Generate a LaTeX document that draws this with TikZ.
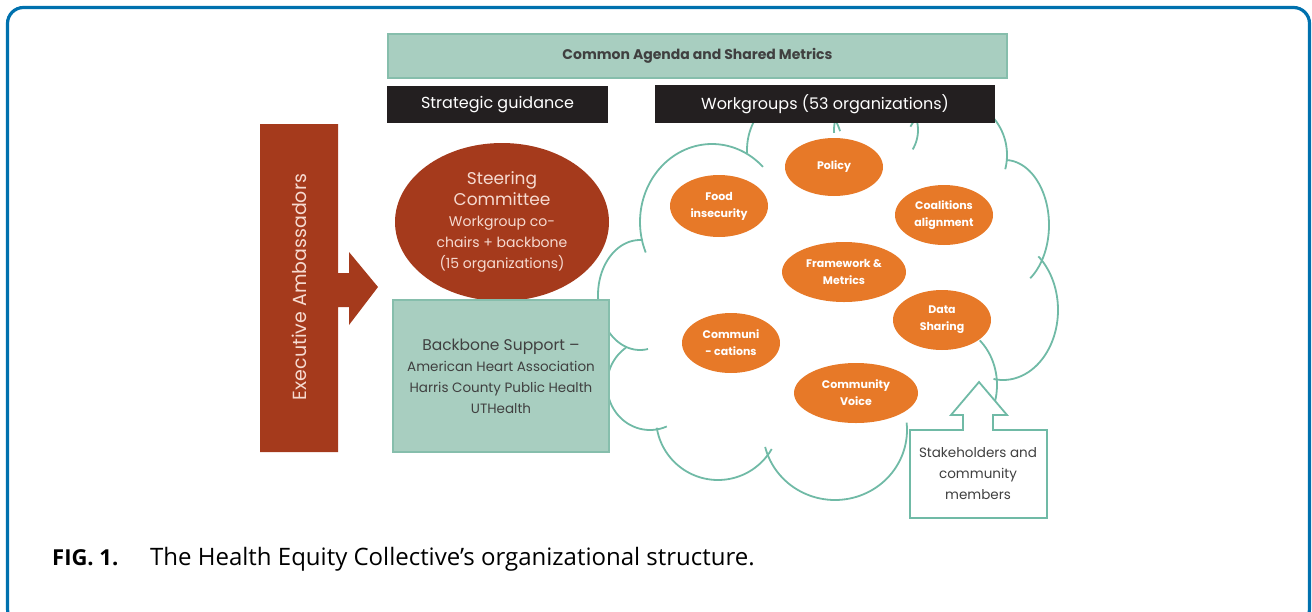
\documentclass[tikz,border=0pt]{standalone}
\usepackage{fontspec}
\setmainfont{Poppins}
\newfontfamily\capfont{Open Sans}
\usetikzlibrary{shapes.geometric}
\definecolor{frameblue}{RGB}{0,113,174}
\definecolor{tealfill}{RGB}{168,206,192}
\definecolor{tealedge}{RGB}{134,190,172}
\definecolor{cloudline}{RGB}{112,186,166}
\definecolor{darkbox}{RGB}{35,31,32}
\definecolor{rust}{RGB}{165,58,28}
\definecolor{orng}{RGB}{231,121,40}
\definecolor{txtgray}{RGB}{64,64,64}
\definecolor{pinktxt}{RGB}{246,218,208}
\newcommand\cloudbump[6]{\draw[cloudstyle] plot[domain=#5:#6,samples=60,smooth,variable=\t] ({#1+#3*cos(\t)},{#2+#4*sin(\t)});}
\begin{document}
\begin{tikzpicture}[x=1pt,y=-1pt,
  tealbox/.style={fill=tealfill,draw=tealedge,line width=1.5pt,inner sep=0pt},
  blackbox/.style={fill=darkbox,draw=none,text=white,inner sep=0pt,font=\fontsize{16}{20}\selectfont},
  wgroup/.style={ellipse,fill=orng,draw=none,text=white,inner sep=0pt,align=center,font=\bfseries\fontsize{11}{17}\selectfont},
  cloudstyle/.style={draw=cloudline,line width=1.8pt},
  stakestyle/.style={fill=white,draw=cloudline,line width=1.8pt}]
\useasboundingbox (0,0) rectangle (1312,611);
\begin{scope}
\clip (0,0) rectangle (1312,611);
\draw[frameblue,line width=3.2pt,rounded corners=16pt] (7.5,7.5) rectangle (1309.5,625);
\end{scope}

% cloud
\cloudbump{712}{222}{72}{78}{157}{315}
\cloudbump{795}{150}{48}{55}{177}{340}
\cloudbump{876}{130}{42}{40}{176}{389}
\cloudbump{955}{155}{52}{55}{211}{375}
\cloudbump{1005}{225}{44}{65}{272}{415}
\cloudbump{1003}{310}{55}{70}{-50}{100}
\cloudbump{945}{385}{52}{60}{-48}{130}
\cloudbump{835}{430}{72}{70}{-6}{166}
\cloudbump{718}{418}{62}{62}{30}{171}
\cloudbump{650}{385}{43}{45}{67}{236}
\cloudbump{640}{295}{42}{55}{79}{274}

% workgroup ellipses
\node[wgroup,minimum width=98pt,minimum height=58pt] (policy) at (834,167) {Policy};
\node[wgroup,minimum width=98pt,minimum height=62pt] (food) at (719,206) {Food\\insecurity};
\node[wgroup,minimum width=98pt,minimum height=60pt] (coal) at (944,215) {Coalitions\\alignment};
\node[wgroup,minimum width=124pt,minimum height=60pt] (frame) at (844,272) {Framework \&\\Metrics};
\node[wgroup,minimum width=98pt,minimum height=60pt] (data) at (942,320) {Data\\Sharing};
\node[wgroup,minimum width=98pt,minimum height=60pt] (comm) at (731,343) {Communi\\- cations};
\node[wgroup,minimum width=124pt,minimum height=60pt] (voice) at (856,393) {Community\\Voice};

% stakeholders arrow box
\draw[stakestyle] (910,430) -- (963,430) -- (963,415) -- (951,415) -- (979,382) -- (1007,415) -- (993,415) -- (993,430) -- (1047,430) -- (1047,518) -- (910,518) -- cycle;
\node[align=center,text=txtgray,font=\fontsize{13.5}{21}\selectfont] (stake) at (978,474) {Stakeholders and\\community\\members};

% top boxes
\node[tealbox,minimum width=619pt,minimum height=44pt,font=\bfseries\fontsize{14}{18}\selectfont,text=txtgray] (agenda) at (697.5,56) {Common Agenda and Shared Metrics};
\node[blackbox,minimum width=221pt,minimum height=37pt] (strat) at (497.5,104.5) {Strategic guidance};
\node[blackbox,minimum width=340pt,minimum height=38pt] (work) at (825,104) {Workgroups (53 organizations)};

% executive ambassadors arrow
\fill[rust] (260,124) -- (338,124) -- (338,273) -- (349,273) -- (349,252) -- (378,287) -- (349,325) -- (349,307) -- (338,307) -- (338,452) -- (260,452) -- cycle;
\node[rotate=90,text=pinktxt,font=\fontsize{19}{22}\selectfont] (exec) at (299,287) {Executive Ambassadors};

% steering committee
\node[ellipse,fill=rust,draw=none,minimum width=214pt,minimum height=158pt,inner sep=0pt,align=center,text=pinktxt,font=\fontsize{14}{21}\selectfont] (steer) at (502,222) {{\fontsize{17}{23}\selectfont Steering}\\{\fontsize{17}{23}\selectfont Committee}\\Workgroup co-\\chairs + backbone\\(15 organizations)};

% backbone support
\node[tealbox,minimum width=216pt,minimum height=152pt,align=center,text=txtgray,font=\fontsize{13.5}{21}\selectfont] (backbone) at (501,376) {{\fontsize{15.5}{21}\selectfont Backbone Support –}\\American Heart Association\\Harris County Public Health\\UTHealth};

% caption
\node[anchor=base west,inner sep=0pt,font=\capfont\bfseries\fontsize{22}{26}\selectfont] (figlab) at (52,565) {FIG. 1.};
\node[anchor=base west,inner sep=0pt,font=\capfont\fontsize{24}{28}\selectfont] (captext) at (150,565) {The Health Equity Collective’s organizational structure.};
\end{tikzpicture}
\end{document}
